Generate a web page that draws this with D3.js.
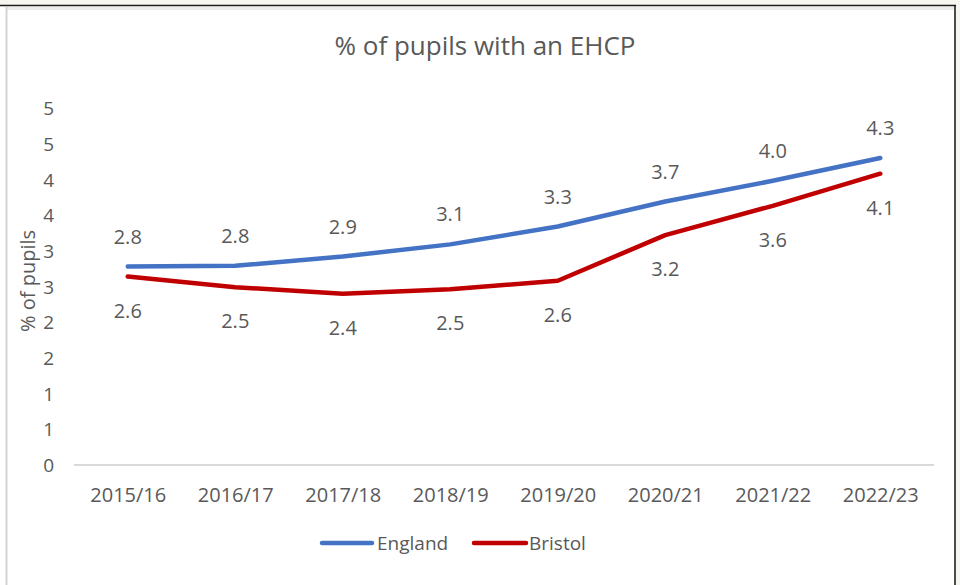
<!DOCTYPE html>
<html>
<head>
<meta charset="utf-8">
<script src="https://cdn.jsdelivr.net/npm/d3@7"></script>
<style>
  html, body { margin: 0; padding: 0; background: #ffffff; }
  svg { display: block; }
  text { font-family: "Open Sans", "Noto Sans", sans-serif; fill: #595959; }
</style>
</head>
<body>
<script>
const categories = ["2015/16","2016/17","2017/18","2018/19","2019/20","2020/21","2021/22","2022/23"];
const englandValues = [2.78, 2.79, 2.92, 3.09, 3.34, 3.69, 3.98, 4.30];
const bristolValues = [2.64, 2.49, 2.40, 2.46, 2.58, 3.22, 3.63, 4.08];
const yTickValues = [0, 0.5, 1, 1.5, 2, 2.5, 3, 3.5, 4, 4.5, 5];
const yTickLabels = ["0","1","1","2","2","3","3","4","4","5","5"];
const seriesNames = ["England", "Bristol"];
const title = "% of pupils with an EHCP";
const yTitle = "% of pupils";

const W = 960, H = 585;
const svg = d3.select("body").append("svg").attr("width", W).attr("height", H);

// frame (screenshot chrome)
svg.append("rect").attr("x", 0).attr("y", 0).attr("width", W).attr("height", H).attr("fill", "#ffffff");
svg.append("rect").attr("x", 0).attr("y", 0).attr("width", W).attr("height", 5).attr("fill", "#f6f5f0");
svg.append("rect").attr("x", 956).attr("y", 0).attr("width", 4).attr("height", H).attr("fill", "#f6f5f0");
svg.append("rect").attr("x", 6).attr("y", 7).attr("width", 948).attr("height", 3).attr("fill", "#ececec");
svg.append("line").attr("x1", 0).attr("x2", 956).attr("y1", 5.5).attr("y2", 5.5).attr("stroke", "#1a1a1a").attr("stroke-width", 1.5);
svg.append("line").attr("x1", 955).attr("x2", 955).attr("y1", 5).attr("y2", H).attr("stroke", "#111111").attr("stroke-width", 1.5);
svg.append("line").attr("x1", 6.5).attr("x2", 6.5).attr("y1", 7).attr("y2", H).attr("stroke", "#d4d4d4").attr("stroke-width", 2);

const x = d3.scalePoint().domain(categories).range([74, 934]).padding(0.5);
const y = d3.scaleLinear().domain([0, 5]).range([465, 108]);

// title
svg.append("text").attr("x", 485).attr("y", 55).attr("text-anchor", "middle")
  .style("font-size", "26px").text(title);

// y axis labels
const yAxis = d3.axisLeft(y).tickValues(yTickValues)
  .tickFormat((d, i) => yTickLabels[i]).tickSize(0).tickPadding(0);
const yg = svg.append("g").attr("transform", "translate(54,0)").call(yAxis);
yg.select(".domain").remove();
yg.selectAll("text").style("font-size", "19px").attr("fill", "#595959").attr("dy", "0.35em");

// y title
svg.append("text").attr("transform", "translate(35,281) rotate(-90)")
  .attr("text-anchor", "middle").style("font-size", "20px").text(yTitle);

// x axis
const xAxis = d3.axisBottom(x).tickSize(0).tickPadding(0);
const xg = svg.append("g").attr("transform", "translate(0,465)").call(xAxis);
xg.select(".domain").attr("stroke", "#d9d9d9").attr("stroke-width", 2).attr("d", "M74,0H934");
xg.selectAll("text").style("font-size", "20px").attr("fill", "#595959").attr("dy", "0").attr("y", 37);

const colors = ["#4472C4", "#C00000"];
const seriesData = [englandValues, bristolValues];
const line = d3.line().x((d, i) => x(categories[i])).y(d => y(d));

seriesData.forEach((vals, s) => {
  svg.append("path").datum(vals).attr("d", line)
    .attr("fill", "none").attr("stroke", colors[s]).attr("stroke-width", 4.5)
    .attr("stroke-linecap", "round").attr("stroke-linejoin", "round");
});

const fmt = d3.format(".1f");
svg.append("g").selectAll("text").data(englandValues).join("text")
  .attr("x", (d, i) => x(categories[i])).attr("y", d => y(d) - 30)
  .attr("dy", "0.35em").attr("text-anchor", "middle").style("font-size", "20px")
  .text(d => fmt(d));
svg.append("g").selectAll("text").data(bristolValues).join("text")
  .attr("x", (d, i) => x(categories[i])).attr("y", d => y(d) + 34)
  .attr("dy", "0.35em").attr("text-anchor", "middle").style("font-size", "20px")
  .text(d => fmt(d));

// legend
const legendItems = [
  { name: seriesNames[0], color: colors[0], x0: 322, x1: 372, tx: 377 },
  { name: seriesNames[1], color: colors[1], x0: 474, x1: 526, tx: 529 }
];
const lg = svg.append("g");
legendItems.forEach(it => {
  lg.append("line").attr("x1", it.x0).attr("x2", it.x1).attr("y1", 543).attr("y2", 543)
    .attr("stroke", it.color).attr("stroke-width", 4.5).attr("stroke-linecap", "round");
  lg.append("text").attr("x", it.tx).attr("y", 543).attr("dy", "0.35em")
    .style("font-size", "19px").text(it.name);
});
</script>
</body>
</html>
